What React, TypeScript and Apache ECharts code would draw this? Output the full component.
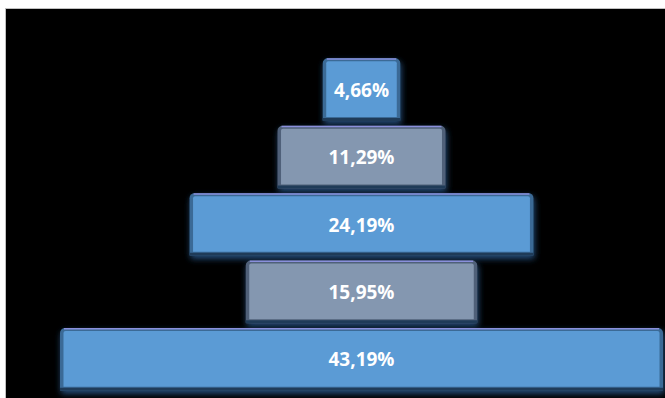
import React, { useEffect, useRef } from "react";
import * as echarts from "echarts";

// Data (top to bottom)
const categories = ["Nivel 1", "Nivel 2", "Nivel 3", "Nivel 4", "Nivel 5"];
const values = [4.66, 11.29, 24.19, 15.95, 43.19];

// Styles
const FILL_BLUE = "#5B9BD5";
const FILL_GRAY = "#8497B0";
const fills = [FILL_BLUE, FILL_GRAY, FILL_BLUE, FILL_GRAY, FILL_BLUE];
const edges = ["#3a6a96", "#4f6079", "#3a6a96", "#4f6079", "#3a6a96"];
const PAD = 7; // bevel margin in px on each side

export default function App() {
  const ref = useRef<HTMLDivElement>(null);
  useEffect(() => {
    if (!ref.current) return;
    const chart = echarts.init(ref.current, undefined, { renderer: "svg" });
    const maxV = Math.max(...values);
    chart.setOption({
      animation: false,
      backgroundColor: "transparent",
      grid: { left: 67, right: 9, top: 56, bottom: 5, containLabel: false },
      xAxis: { type: "value", min: -maxV / 2, max: maxV / 2, show: false },
      yAxis: { type: "category", data: categories, inverse: true, show: false },
      series: [
        {
          type: "custom",
          data: values.map((v, i) => [i, v]),
          encode: { x: 1, y: 0 },
          renderItem: (params: any, api: any) => {
            const idx = api.value(0);
            const v = api.value(1);
            const left = api.coord([-v / 2, idx]);
            const right = api.coord([v / 2, idx]);
            const band = api.size([0, 1])[1];
            const h = band * 0.93;
            const x0 = left[0] - PAD;
            const x1 = right[0] + PAD;
            const y0 = left[1] - h / 2;
            const w = x1 - x0;
            const fill = fills[idx];
            const edge = edges[idx];
            const label = v.toFixed(2).replace(".", ",") + "%";
            return {
              type: "group",
              children: [
                {
                  type: "rect",
                  shape: { x: x0, y: y0, width: w, height: h, r: [5, 5, 1, 1] },
                  style: {
                    fill: edge,
                    shadowColor: "rgba(40,85,135,0.9)",
                    shadowBlur: 6,
                    shadowOffsetX: 1,
                    shadowOffsetY: 3,
                  },
                },
                {
                  type: "rect",
                  shape: { x: x0 + 3.5, y: y0 + 3, width: w - 7, height: h - 7, r: [2, 2, 0, 0] },
                  style: { fill },
                },
                {
                  type: "rect",
                  shape: { x: x0 + 4, y: y0, width: w - 8, height: 1.5 },
                  style: { fill: "#8a90dc" },
                },
                {
                  type: "rect",
                  shape: { x: x0, y: y0 + h - 3, width: w, height: 3 },
                  style: { fill: "#1f3b58" },
                },
                {
                  type: "text",
                  style: {
                    text: label,
                    x: (x0 + x1) / 2,
                    y: y0 + h / 2,
                    align: "center",
                    verticalAlign: "middle",
                    fill: "#ffffff",
                    fontFamily: "Open Sans",
                    fontWeight: "bold",
                    fontSize: 19,
                  },
                },
              ],
            };
          },
        },
      ],
    });
    return () => chart.dispose();
  }, []);
  return (
    <div
      style={{
        position: "fixed",
        left: 0,
        top: 0,
        width: 665,
        height: 398,
        background: "#ffffff",
        overflow: "hidden",
      }}
    >
      <div
        style={{
          position: "absolute",
          left: 5,
          top: 8,
          right: 0,
          bottom: 0,
          background: "#000000",
          borderLeft: "1px solid #c0c0c0",
          borderTop: "1px solid #c0c0c0",
        }}
      />
      <div
        ref={ref}
        style={{ position: "absolute", left: 0, top: 0, width: 665, height: 398 }}
      />
    </div>
  );
}
